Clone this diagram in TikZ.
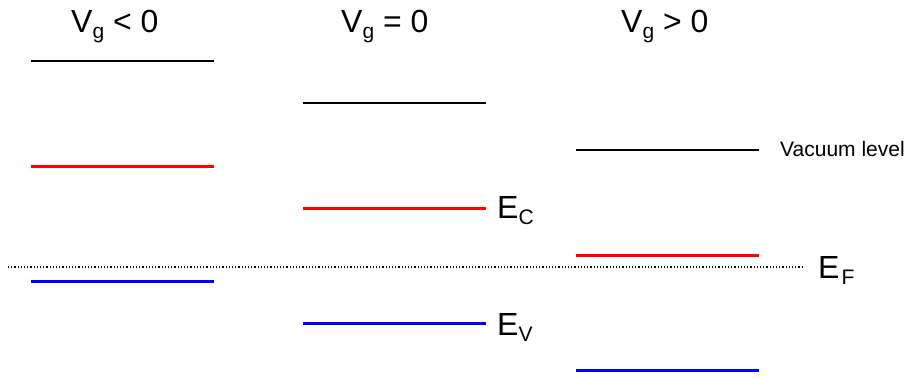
\documentclass[tikz,border=0pt]{standalone}
\usepackage{fontspec}
\setmainfont{Liberation Sans}
\newcommand\mysubs[1]{\raisebox{-6pt}{\fontsize{21}{21}\selectfont #1}}
\newcommand\esub[1]{\raisebox{-6pt}{\fontsize{21}{21}\selectfont #1}}
\begin{document}
\begin{tikzpicture}[x=1pt,y=-1pt,
  vac/.style={line width=1.4pt,black},
  cb/.style={line width=3pt,red},
  vb/.style={line width=3pt,blue},
  fermi/.style={line width=1.2pt,dotted},
  title/.style={inner sep=0pt,anchor=base west,font=\fontsize{32}{32}\selectfont},
  elab/.style={inner sep=0pt,anchor=base west,font=\fontsize{32}{32}\selectfont},
  small/.style={inner sep=0pt,anchor=base west,font=\fontsize{21}{21}\selectfont}]
\useasboundingbox (0,0) rectangle (912,378);
% Fermi level
\draw[fermi] (8,267) -- (803,267);
% column 1: Vg<0
\draw[vac] (31,61) -- (214,61);
\draw[cb] (31,166) -- (214,166);
\draw[vb] (31,281) -- (214,281);
% column 2: Vg=0
\draw[vac] (303,103) -- (486,103);
\draw[cb] (303,208) -- (486,208);
\draw[vb] (303,323) -- (486,323);
% column 3: Vg>0
\draw[vac] (576,150) -- (759,150);
\draw[cb] (576,255) -- (759,255);
\draw[vb] (576,370) -- (759,370);
% titles
\node[title] (t1) at (71,32) {V\mysubs{g} < 0};
\node[title] (t2) at (341,32) {V\mysubs{g} = 0};
\node[title] (t3) at (621,32) {V\mysubs{g} > 0};
% labels
\node[elab] (ec) at (497,218) {E\esub{C}};
\node[elab] (ev) at (497,335) {E\esub{V}};
\node[elab] (ef) at (818,278) {E\kern2pt\esub{F}};
\node[small] (vl) at (780,156) {Vacuum level};
\end{tikzpicture}
\end{document}
